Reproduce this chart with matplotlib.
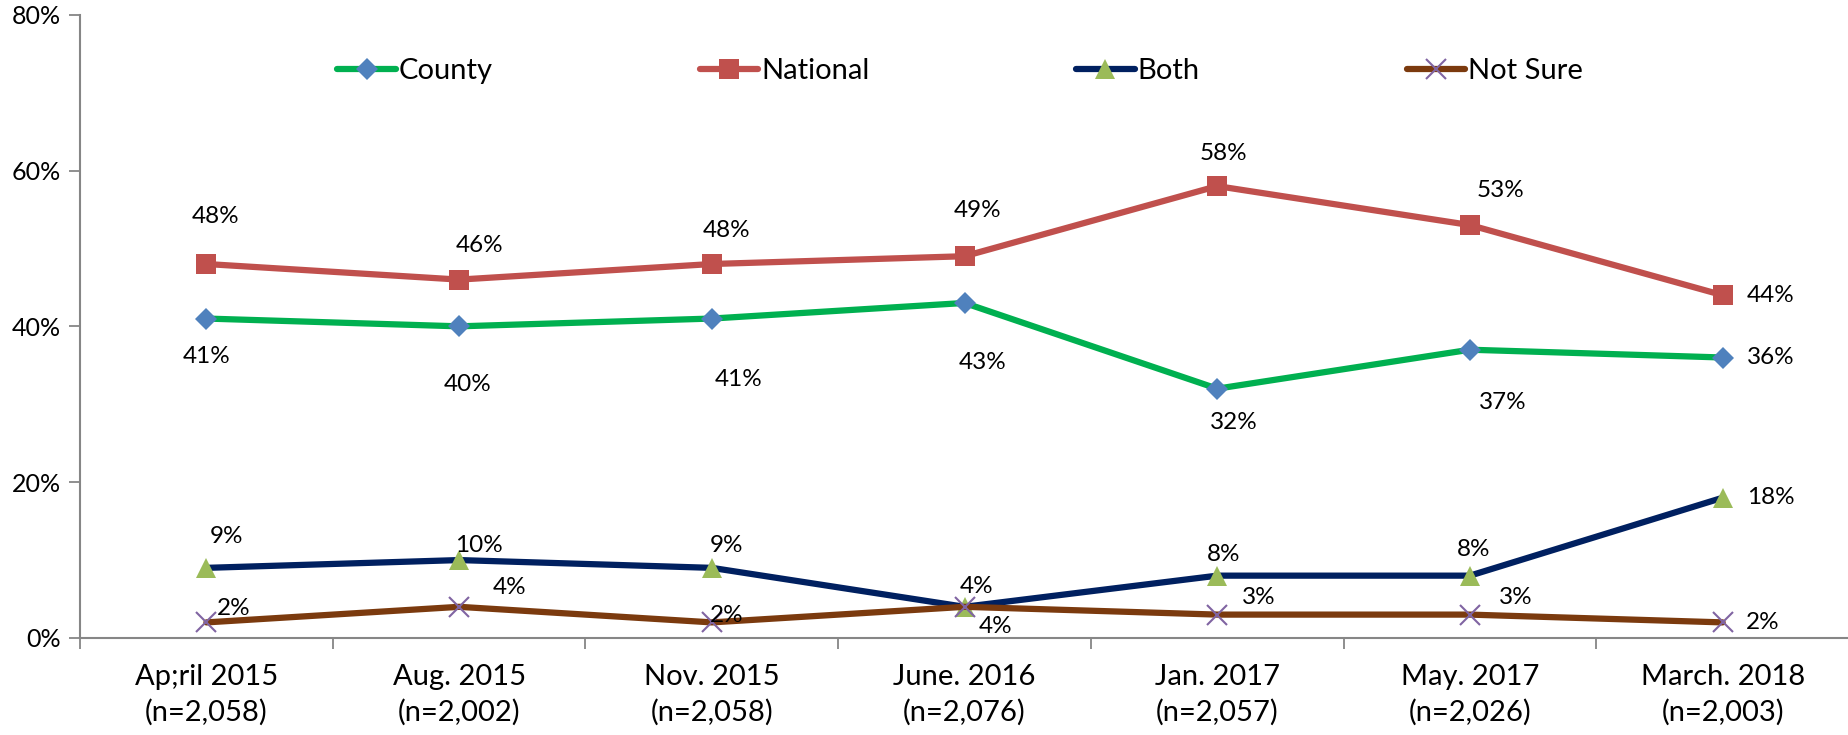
import matplotlib
matplotlib.use("Agg")
import matplotlib.pyplot as plt
from matplotlib.ticker import FixedLocator, PercentFormatter

categories = ["Ap;ril 2015\n(n=2,058)", "Aug. 2015\n(n=2,002)", "Nov. 2015\n(n=2,058)",
              "June. 2016\n(n=2,076)", "Jan. 2017\n(n=2,057)", "May. 2017\n(n=2,026)",
              "March. 2018\n(n=2,003)"]
county = [41, 40, 41, 43, 32, 37, 36]
national = [48, 46, 48, 49, 58, 53, 44]
both = [9, 10, 9, 4, 8, 8, 18]
not_sure = [2, 4, 2, 4, 3, 3, 2]
series_names = ["County", "National", "Both", "Not Sure"]

# label offsets in pixels (dx, dy)
off_county = [(0, -38), (8, -58), (27, -61), (18, -60), (17, -34), (33, -53), (48, 0)]
off_national = [(9, 48), (20, 34), (15, 34), (13, 46), (6, 33), (31, 35), (48, 0)]
off_both = [(20, 31), (20, 15), (15, 22), (12, 20), (6, 21), (4, 26), (48, 0)]
off_notsure = [(27, 14), (50, 19), (15, 7), (31, -20), (42, 17), (46, 17), (40, 0)]

plt.rcParams['font.family'] = ['Lato', 'DejaVu Sans']
DPI = 100
fig = plt.figure(figsize=(18.49, 7.35), dpi=DPI)
ax = fig.add_axes([0.0433, 0.132, 0.9567, 0.848])

x = list(range(len(categories)))
styles = [
    (county, "#00B050", "D", "#4F81BD", 11, off_county),
    (national, "#C0504D", "s", "#C0504D", 14, off_national),
    (both, "#002060", "^", "#9BBB59", 15, off_both),
    (not_sure, "#7B3A0E", "x", "#8064A2", 14, off_notsure),
]
for (vals, lc, mk, mc, ms, offs), name in zip(styles, series_names):
    kw = dict(marker=mk, markersize=ms, markerfacecolor=mc, markeredgecolor=mc)
    if mk == "x":
        kw["markeredgewidth"] = 1.5
    else:
        kw["markeredgewidth"] = 0
    ax.plot(x, vals, color=lc, linewidth=4.5, label=name, solid_capstyle='round', **kw)
    for xi, v, (dx, dy) in zip(x, vals, offs):
        ax.annotate(f"{v}%", (xi, v), xytext=(dx * 72 / DPI, dy * 72 / DPI),
                    textcoords="offset points", ha="center", va="center",
                    fontsize=17.5, color="black")

ax.set_xlim(-0.5, len(categories) - 0.5)
ax.set_ylim(0, 80)
ax.yaxis.set_major_locator(FixedLocator([0, 20, 40, 60, 80]))
ax.yaxis.set_major_formatter(PercentFormatter(decimals=0))
ax.set_xticks(x)
ax.set_xticklabels(categories, fontsize=21, linespacing=1.4)
ax.set_xticks([i + 0.5 for i in range(-1, len(categories))], minor=True)
ax.tick_params(axis='x', which='major', length=0, pad=19)
ax.tick_params(axis='x', which='minor', length=8, width=1.3, color="#868686", direction='out')
ax.tick_params(axis='y', length=8, width=1.3, color="#868686", labelsize=18, pad=6)
for s in ["top", "right"]:
    ax.spines[s].set_visible(False)
for s in ["left", "bottom"]:
    ax.spines[s].set_color("#868686")
    ax.spines[s].set_linewidth(1.5)

leg = ax.legend(loc="center", bbox_to_anchor=(0.4975, 0.91), ncol=4, frameon=False,
                fontsize=21, columnspacing=7.1, handlelength=2.0, handletextpad=0.1)

fig.savefig("out.png", dpi=DPI)
